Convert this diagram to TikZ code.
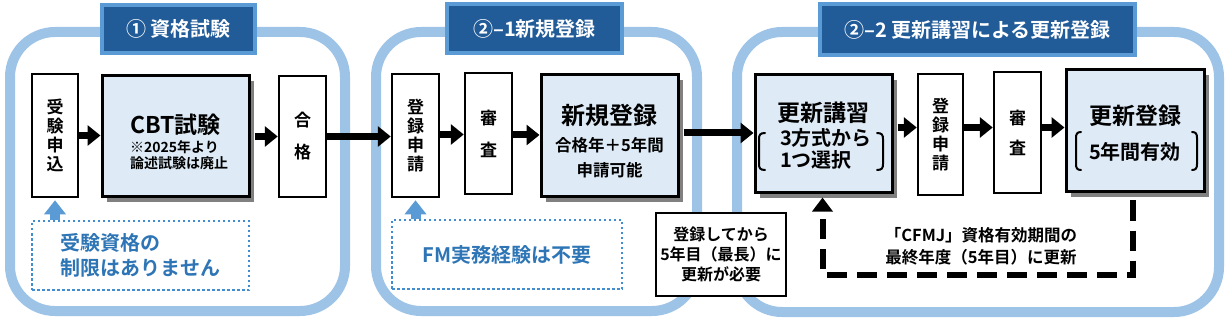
\documentclass[tikz,border=0pt]{standalone}
\usepackage{fontspec}
\setmainfont{Noto Sans CJK JP}[BoldFont={Noto Sans CJK JP Bold}]
\usetikzlibrary{arrows.meta,shadows}

\definecolor{panelblue}{RGB}{157,195,230}
\definecolor{boxfill}{RGB}{222,235,247}
\definecolor{bannerfill}{RGB}{33,91,152}
\definecolor{banneredge}{RGB}{91,155,213}
\definecolor{dotblue}{RGB}{66,140,210}
\definecolor{txtblue}{RGB}{46,117,182}
\definecolor{shadowgray}{RGB}{128,128,128}

\newcommand{\fsz}[1]{\fontsize{#1}{#1}\selectfont}

\tikzset{
  panel/.style={draw=panelblue, line width=10pt, rounded corners=45pt},
  banner/.style={draw=banneredge, fill=bannerfill, line width=3.5pt, text=white, inner sep=0pt,
    font=\bfseries\fsz{20}},
  wbox/.style={draw, line width=2.5pt, fill=white, inner sep=0pt, align=center,
    font=\bfseries\fontsize{17}{19}\selectfont},
  bbox/.style={draw, line width=3pt, fill=boxfill, inner sep=0pt,
    drop shadow={shadow xshift=5pt, shadow yshift=-5pt, fill=shadowgray, opacity=1}},
  notebox/.style={draw, line width=2pt, fill=white, inner sep=0pt, align=center,
    font=\bfseries\fontsize{16}{20}\selectfont},
  dotbox/.style={draw=dotblue, line width=2.5pt, dash pattern=on 2.5pt off 2.5pt, inner sep=0pt,
    text=txtblue, font=\bfseries\fontsize{20}{25}\selectfont},
  fat/.style={line width=7pt, -{Triangle[length=13pt,width=20pt]}},
  uparrow/.style={draw=banneredge, line width=10pt, -{Triangle[length=14pt,width=21pt]}},
  loopline/.style={line width=6pt, dash pattern=on 20pt off 10pt, -{Triangle[length=14pt,width=20pt]}},
  bracket/.style={line width=2pt, line cap=round},
}

\begin{document}
\begin{tikzpicture}[x=1pt, y=-1pt]
  \useasboundingbox (0,0) rectangle (1228,323);

  % Panels and their titles
  \draw[panel] (10,32) rectangle (345,311);
  \draw[panel] (376,32) rectangle (697,311);
  \draw[panel] (737,32) rectangle (1219,312);
  \node[banner, minimum width=153pt, minimum height=48pt] (ban1) at (178.5,29) {① 資格試験};
  \node[banner, minimum width=175pt, minimum height=49pt] (ban2) at (534.5,28.5) {②–1新規登録};
  \node[banner, minimum width=315pt, minimum height=51pt] (ban3) at (977.5,29.5) {②–2 更新講習による更新登録};

  % Panel 1: exam
  \node[wbox, minimum width=46pt, minimum height=123pt] (moshi) at (55,135.5) {受\\験\\申\\込};
  \node[bbox, minimum width=147pt, minimum height=121pt] (cbt) at (175.5,136.5) {};
  \node[anchor=west, font=\bfseries\fsz{23}] (cbtt) at ([xshift=-49pt, yshift=11.5pt]cbt.center) {CBT試験};
  \node[anchor=west, align=left, font=\bfseries\fontsize{14}{16.5}\selectfont] (cbts)
    at ([xshift=-49pt, yshift=-18.5pt]cbt.center) {※2025年より\\論述試験は廃止};
  \node[wbox, minimum width=47pt, minimum height=121pt, font=\bfseries\fontsize{17}{32}\selectfont] (gokaku) at (302.5,136.5) {合\\格};
  \node[dotbox, minimum width=217pt, minimum height=69pt, align=left] (dot1) at (140.5,255.5) {受験資格の\\制限はありません};
  \draw[uparrow] (moshi.south |- dot1.north) -- ([yshift=-2pt]moshi.south);

  % Panel 2: new registration
  \node[wbox, minimum width=47pt, minimum height=123pt] (shinsei1) at (415.5,135.5) {登\\録\\申\\請};
  \node[wbox, minimum width=47pt, minimum height=121pt, font=\bfseries\fontsize{17}{32}\selectfont] (shinsa1) at (488.5,133.5) {審\\査};
  \node[bbox, minimum width=137pt, minimum height=122pt] (shinki) at (609.5,136) {};
  \node[font=\bfseries\fsz{24}] (shinkit) at ([yshift=21pt]shinki.center) {新規登録};
  \node[align=center, font=\bfseries\fontsize{16.5}{25}\selectfont] (shinkis)
    at ([yshift=-21.5pt]shinki.center) {合格年＋5年間\\申請可能};
  \node[dotbox, minimum width=230pt, minimum height=69pt] (dot2) at (507,254.5) {FM実務経験は不要};
  \draw[uparrow] (shinsei1.south |- dot2.north) -- ([yshift=-2pt]shinsei1.south);

  % Panel 3: renewal by course
  \node[bbox, minimum width=137pt, minimum height=118pt] (koshu) at (823.5,134) {};
  \node[font=\bfseries\fsz{23}] (koshut) at ([yshift=21pt]koshu.center) {更新講習};
  \node[anchor=west, align=left, font=\bfseries\fontsize{20}{22}\selectfont] (koshus)
    at ([xshift=-47pt, yshift=-15pt]koshu.center) {3方式から\\1つ選択};
  \draw[bracket] (765,133) .. controls (760,133) and (759,135) .. (759,139) -- (759,164)
    .. controls (759,168) and (760,170) .. (765,170);
  \draw[bracket] (877,133) .. controls (882,133) and (883,135) .. (883,139) -- (883,164)
    .. controls (883,168) and (882,170) .. (877,170);
  \node[wbox, minimum width=45pt, minimum height=121pt] (shinsei2) at (940.5,134.5) {登\\録\\申\\請};
  \node[wbox, minimum width=47pt, minimum height=121pt, font=\bfseries\fontsize{17}{30}\selectfont] (shinsa2) at (1017.5,132.5) {審\\査};
  \node[bbox, minimum width=138pt, minimum height=122pt] (koshin) at (1135,131) {};
  \node[font=\bfseries\fsz{23}] (koshint) at ([yshift=15pt]koshin.center) {更新登録};
  \node[font=\bfseries\fsz{20}] (koshins) at ([yshift=-21pt]koshin.center) {5年間有効};
  \draw[bracket] (1081,132) .. controls (1077,132) and (1076,134) .. (1076,138) -- (1076,164)
    .. controls (1076,168) and (1077,170) .. (1081,170);
  \draw[bracket] (1192,132) .. controls (1196,132) and (1197,134) .. (1197,138) -- (1197,164)
    .. controls (1197,168) and (1196,170) .. (1192,170);

  % Note between panels 2 and 3
  \node[notebox, minimum width=130pt, minimum height=83pt] (note) at (721,254.5) {登録してから\\5年目（最長）に\\更新が必要};

  % Flow arrows
  \draw[fat] (moshi.east) -- (moshi.east -| cbt.west);
  \draw[fat] ([xshift=4pt]cbt.east) -- (cbt.east -| gokaku.west);
  \draw[fat] (gokaku.east) -- (gokaku.east -| shinsei1.west);
  \draw[fat] ([yshift=1pt]shinsei1.east) -- ([yshift=1pt]shinsei1.east -| shinsa1.west);
  \draw[fat] ([yshift=-1.5pt]shinsa1.east) -- ([yshift=-1.5pt]shinsa1.east -| shinki.west);
  \draw[fat] ([xshift=4pt, yshift=3pt]shinki.east) -- ([yshift=3pt]shinki.east -| koshu.west);
  \draw[fat] ([xshift=4pt, yshift=6.5pt]koshu.east) -- ([yshift=6.5pt]koshu.east -| shinsei2.west);
  \draw[fat] ([yshift=7pt]shinsei2.east) -- ([yshift=7pt]shinsei2.east -| shinsa2.west);
  \draw[fat] ([yshift=5pt]shinsa2.east) -- ([yshift=5pt]shinsa2.east -| koshin.west);

  % Renewal loop
  \draw[loopline] ([xshift=-2pt, yshift=-7pt]koshin.south) -- ++(0,74) -| ([xshift=-1pt, yshift=-3pt]koshu.south);
  \node[align=center, font=\bfseries\fontsize{16.5}{22}\selectfont] (looptx) at (981,246.5)
    {「CFMJ」資格有効期間の\\最終年度（5年目）に更新};
\end{tikzpicture}
\end{document}
